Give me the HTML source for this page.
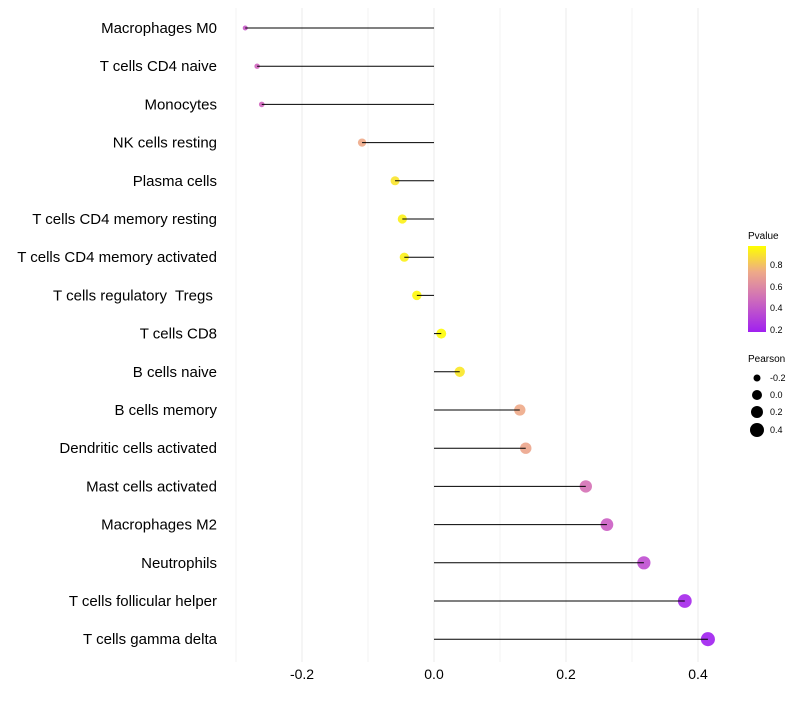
<!DOCTYPE html>
<html><head><meta charset="utf-8"><style>
body{margin:0;background:#fff;font-family:"Liberation Sans",sans-serif;}
text{white-space:pre;}
</style></head><body>
<svg id="chart" width="800" height="700">
<defs><linearGradient id="pg" x1="0" y1="1" x2="0" y2="0">
<stop offset="0" stop-color="#A020F0"/><stop offset="0.4" stop-color="#D070B8"/><stop offset="0.7" stop-color="#EEAA88"/><stop offset="1" stop-color="#FFFF00"/></linearGradient></defs>
<g id="grid"></g><g id="marks"></g><g id="labels"></g>
<g font-size="9" fill="#000">
<text x="748" y="239" font-size="10">Pvalue</text>
<rect x="748" y="246" width="18" height="86" fill="url(#pg)"/>
<text x="770" y="268">0.8</text><text x="770" y="290">0.6</text><text x="770" y="311">0.4</text><text x="770" y="333">0.2</text>
<text x="748" y="362" font-size="10">Pearson</text>
<circle cx="757" cy="378" r="3.5"/><text x="770" y="381">-0.2</text>
<circle cx="757" cy="395" r="5"/><text x="770" y="398">0.0</text>
<circle cx="757" cy="412" r="6"/><text x="770" y="415">0.2</text>
<circle cx="757" cy="430" r="7"/><text x="770" y="433">0.4</text>
</g>
</svg>
<script>
const cats=["Macrophages M0","T cells CD4 naive","Monocytes","NK cells resting","Plasma cells","T cells CD4 memory resting","T cells CD4 memory activated","T cells regulatory  Tregs\u00a0","T cells CD8","B cells naive","B cells memory","Dendritic cells activated","Mast cells activated","Macrophages M2","Neutrophils","T cells follicular helper","T cells gamma delta"];
const pearson=[-0.286,-0.268,-0.261,-0.109,-0.059,-0.048,-0.045,-0.026,0.011,0.039,0.130,0.139,0.230,0.262,0.318,0.380,0.415];
const pvalue=[0.4,0.45,0.45,0.75,0.92,0.96,0.96,0.98,0.99,0.93,0.75,0.73,0.5,0.42,0.35,0.2,0.17];
const ticks=[-0.2,0,0.2,0.4];
const NS="http://www.w3.org/2000/svg";
const xs=v=>434+v*660;
const ys=i=>28+i*38.2;
function mk(t,a,p){const e=document.createElementNS(NS,t);for(const k in a)e.setAttribute(k,a[k]);p.appendChild(e);return e;}
function col(p){const st=[[0.17,[160,32,240]],[0.45,[208,100,190]],[0.75,[238,170,136]],[1,[255,255,0]]];
 if(p<=st[0][0])return`rgb(${st[0][1]})`;for(let i=1;i<st.length;i++){if(p<=st[i][0]){const t=(p-st[i-1][0])/(st[i][0]-st[i-1][0]);const c=st[i-1][1].map((v,j)=>Math.round(v+(st[i][1][j]-v)*t));return`rgb(${c})`;}}return"rgb(255,255,0)";}
const rad=v=>Math.sqrt(Math.max(4,24+62*v));
const g=document.getElementById('grid'),m=document.getElementById('marks'),l=document.getElementById('labels');
[-0.3,-0.2,-0.1,0,0.1,0.2,0.3,0.4].forEach(v=>{const e=mk('line',{x1:xs(v),x2:xs(v),y1:8,y2:662,stroke:'#ebebeb','stroke-width':Number.isInteger(Math.round(v*10)/2)?1:0.6},g);

});
ticks.forEach(v=>{const t=mk('text',{x:xs(v),y:679,'text-anchor':'middle','font-size':14,fill:'#000'},l);t.textContent=v.toFixed(1);

});
cats.forEach((c,i)=>{const y=ys(i);
const p=mk('circle',{cx:xs(pearson[i]),cy:y,r:rad(pearson[i]),fill:col(pvalue[i]),'fill-opacity':0.9},m);


const s=mk('line',{x1:xs(0),x2:xs(pearson[i]),y1:y,y2:y,stroke:'#000','stroke-width':1},m);


const t=mk('text',{x:217,y:y+5,'text-anchor':'end','font-size':15,fill:'#000'},l);t.textContent=c;

});
</script>
</body></html>
